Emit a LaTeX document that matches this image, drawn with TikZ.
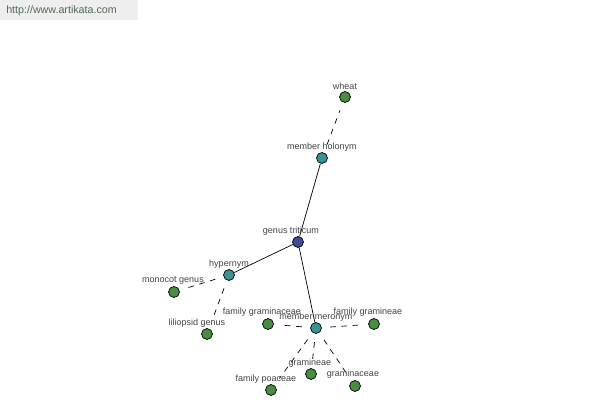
\documentclass[tikz,border=0pt]{standalone}
\usepackage{fontspec}
\setmainfont{Liberation Sans}
\usepackage{xcolor}
\usepackage{tikz}
\usetikzlibrary{positioning}

\definecolor{rootblue}{HTML}{3F4A9A}
\definecolor{relteal}{HTML}{3A9292}
\definecolor{leafgreen}{HTML}{4A8C42}
\definecolor{labelgray}{HTML}{444444}
\definecolor{bannergray}{HTML}{EEEEEE}
\definecolor{bannertext}{HTML}{4E6E4E}

\tikzset{
    dot/.style={circle, draw=black, line width=0.5pt, minimum size=7.8pt, inner sep=0pt},
    rootdot/.style={dot, fill=rootblue},
    reldot/.style={dot, fill=relteal},
    leafdot/.style={dot, fill=leafgreen},
    lbl/.style={font=\fontsize{6.4}{7}\selectfont, text=labelgray, inner sep=0pt},
    link/.style={draw=black, line width=0.5pt},
    dlink/.style={draw=black, line width=0.5pt, dashed, dash pattern=on 4pt off 4pt, shorten <=6pt, shorten >=6pt}
}

\begin{document}
\begin{tikzpicture}[x=0.025cm,y=-0.025cm]
    \useasboundingbox (0,0) rectangle (600,400);
    \fill[white] (0,0) rectangle (600,400);
    % banner
    \fill[bannergray] (0,0) rectangle (138,20);
    \node[font=\fontsize{7.6}{9}\selectfont, text=bannertext, anchor=west, inner sep=0pt] (site) at (6,11) {http://www.artikata.com};

    % positions
    \coordinate (pgt) at (298,242);
    \coordinate (pmh) at (322,158);
    \coordinate (pwh) at (345,97);
    \coordinate (phy) at (229,275);
    \coordinate (pmg) at (174,292);
    \coordinate (plg) at (207,334);
    \coordinate (pmm) at (316,328);
    \coordinate (pfga) at (268,324);
    \coordinate (pfgi) at (374,324);
    \coordinate (pgri) at (311,374);
    \coordinate (pgra) at (355,386);
    \coordinate (pfpo) at (271,390);

    % nodes
    \node[rootdot] (gt) at (pgt) {};
    \node[reldot] (mh) at (pmh) {};
    \node[leafdot] (wh) at (pwh) {};
    \node[reldot] (hy) at (phy) {};
    \node[leafdot] (mg) at (pmg) {};
    \node[leafdot] (lg) at (plg) {};
    \node[reldot] (mm) at (pmm) {};
    \node[leafdot] (fga) at (pfga) {};
    \node[leafdot] (fgi) at (pfgi) {};
    \node[leafdot] (gri) at (pgri) {};
    \node[leafdot] (gra) at (pgra) {};
    \node[leafdot] (fpo) at (pfpo) {};

    % connectors
    \draw[link] (gt) -- (mh);
    \draw[link] (gt) -- (hy);
    \draw[link] (gt) -- (mm);
    \draw[dlink] (mh) -- (wh);
    \draw[dlink] (hy) -- (mg);
    \draw[dlink] (hy) -- (lg);
    \draw[dlink] (mm) -- (fga);
    \draw[dlink] (mm) -- (fgi);
    \draw[dlink] (mm) -- (gri);
    \draw[dlink] (mm) -- (gra);
    \draw[dlink] (mm) -- (fpo);

    % labels
    \node[lbl] (gtl) at (291,231) {genus triticum};
    \node[lbl] (mhl) at (322,147) {member holonym};
    \node[lbl] (whl) at (345,86) {wheat};
    \node[lbl] (hyl) at (229,264) {hypernym};
    \node[lbl] (mgl) at (173,281) {monocot genus};
    \node[lbl] (lgl) at (197,323) {liliopsid genus};
    \node[lbl] (mml) at (316,317) {member meronym};
    \node[lbl] (fgal) at (262,312) {family graminaceae};
    \node[lbl] (fgil) at (368,312) {family gramineae};
    \node[lbl] (gril) at (310,363) {gramineae};
    \node[lbl] (gral) at (353,374) {graminaceae};
    \node[lbl] (fpol) at (266,379) {family poaceae};
\end{tikzpicture}
\end{document}
